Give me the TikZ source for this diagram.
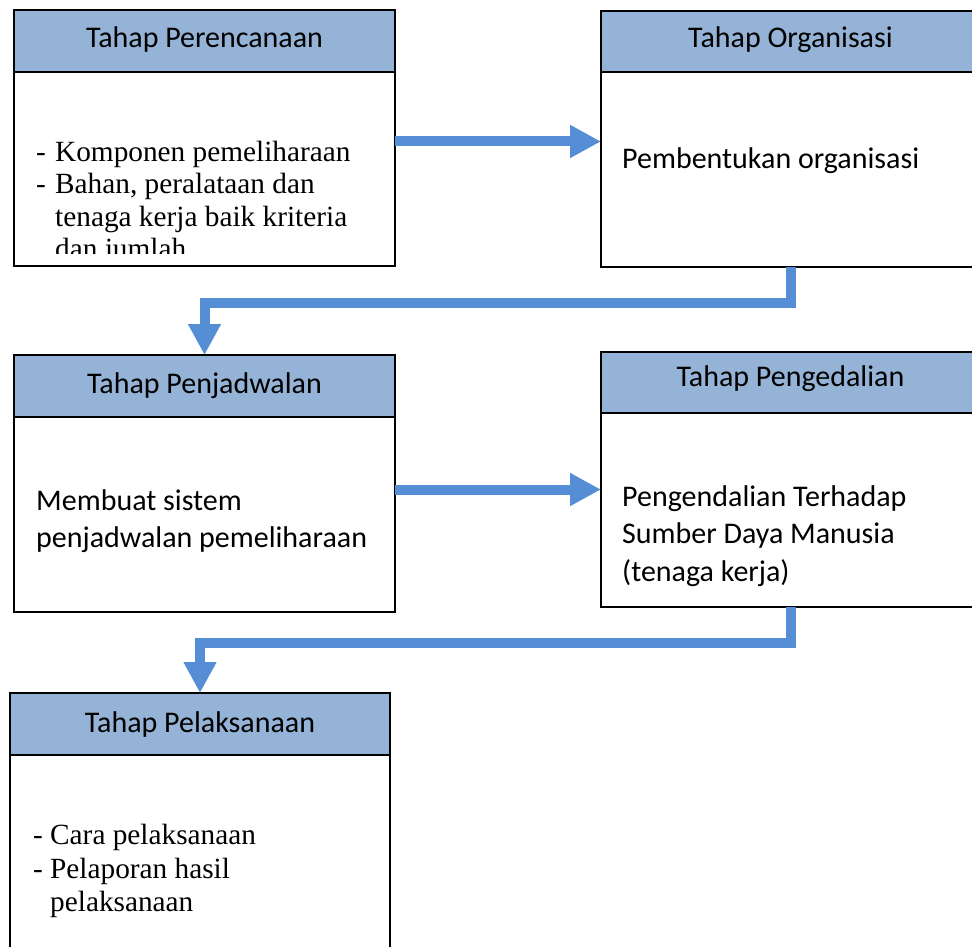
\documentclass[tikz,border=0pt]{standalone}
\usepackage{fontspec}
\setmainfont{Liberation Serif}
\newfontfamily\calibri{Carlito}
\usetikzlibrary{arrows.meta}

\definecolor{headfill}{HTML}{95B3D7}
\definecolor{flowblue}{HTML}{558ED5}

\tikzset{
  head/.style={draw=black, line width=1.5pt, fill=headfill, rectangle,
    inner sep=0pt, outer sep=0pt, anchor=north west},
  body/.style={draw=black, line width=1.5pt, fill=white, rectangle,
    inner sep=0pt, outer sep=0pt, anchor=north west},
  title/.style={font=\calibri\fontsize{30}{36}\selectfont},
  sans text/.style={anchor=north west, inner sep=0pt, align=left,
    font=\calibri\fontsize{30}{37.5}\selectfont},
  serif text/.style={anchor=north west, inner sep=0pt, align=left},
  flow/.style={draw=flowblue, line width=10pt, line join=miter,
    -{Triangle[length=31pt,width=31pt]}},
}

\newcommand{\stagebox}[6]{%
  % #1 name, #2 left, #3 top, #4 width, #5 header height, #6 body height
  \node[head, minimum width=#4pt, minimum height=#5pt] (h#1) at (#2,-#3) {};
  \node[body, minimum width=#4pt, minimum height=#6pt] (b#1) at (h#1.south west) {};
}

\begin{document}
\begin{tikzpicture}[x=1pt,y=1pt]
\useasboundingbox (0,0) rectangle (972,-947);
\clip (0,0) rectangle (972,-947);
\fill[white] (0,0) rectangle (972,-947);

% the five stages
\stagebox{1}{14}{10}{381}{62}{194}
\stagebox{2}{601}{11}{379}{61}{195}
\stagebox{3}{14}{355}{381}{62}{195}
\stagebox{4}{601}{352}{379}{61}{194}
\stagebox{5}{10}{693}{380}{62}{300}

% stage titles
\node[title] (t1) at ([yshift=1pt]h1.center) {Tahap Perencanaan};
\node[title] (t2) at ([yshift=2pt]h2.center) {Tahap Organisasi};
\node[title] (t3) at (h3.center) {Tahap Penjadwalan};
\node[title] (t4) at ([yshift=4pt]h4.center) {Tahap Pengedalian};
\node[title] (t5) at (h5.center) {Tahap Pelaksanaan};

% stage contents
\begin{scope}
  \clip (14,-72) rectangle (395,-253);
  \node[serif text, font=\fontsize{29.3}{32.3}\selectfont] (c1) at (36,-141)
    {\makebox[19pt][l]{-}Komponen pemeliharaan\\
     \makebox[19pt][l]{-}Bahan, peralataan dan\\
     \hspace*{19pt}tenaga kerja baik kriteria\\
     \hspace*{19pt}dan jumlah};
\end{scope}
\node[sans text] (c2) at (622,-147) {Pembentukan organisasi};
\node[sans text] (c3) at (36,-489) {Membuat sistem\\penjadwalan pemeliharaan};
\node[sans text] (c4) at (622,-485) {Pengendalian Terhadap\\Sumber Daya Manusia\\(tenaga kerja)};
\node[serif text, font=\fontsize{29.3}{33.5}\selectfont] (c5) at (33,-824)
  {\makebox[17pt][l]{-}Cara pelaksanaan\\
   \makebox[17pt][l]{-}Pelaporan hasil\\
   \hspace*{17pt}pelaksanaan};

% flow between stages
\draw[flow] ([yshift=27.5pt]b1.east) -- ([yshift=27.5pt]b1.east -| b2.west);
\draw[flow] (b2.south) -- ++(0,-36) -| (h3.north);
\draw[flow] ([yshift=25pt]b3.east) -- ([yshift=25pt]b3.east -| b4.west);
\draw[flow] (b4.south) -- ++(0,-36) -| (h5.north);
\end{tikzpicture}
\end{document}
